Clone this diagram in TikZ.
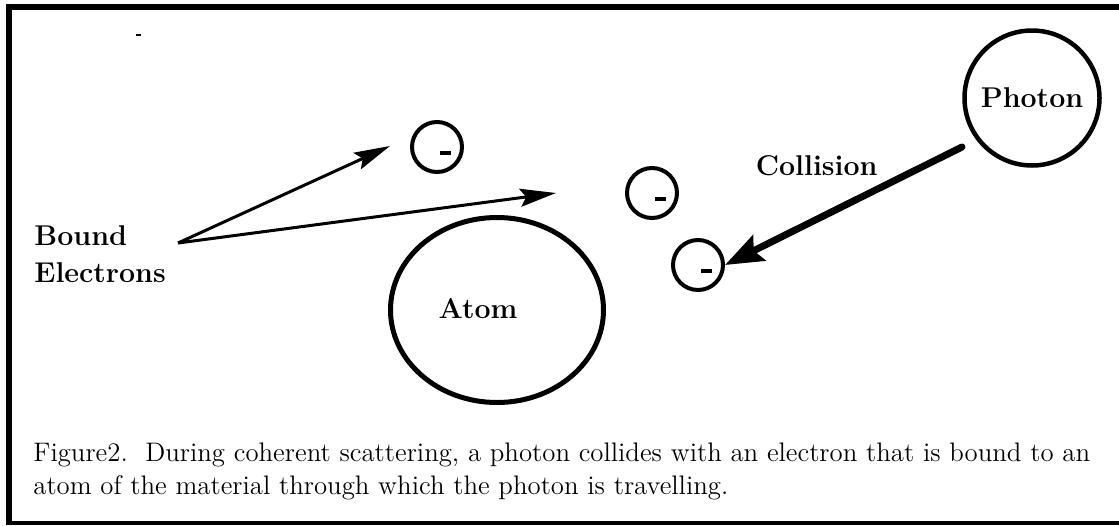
\documentclass[tikz,border=0pt]{standalone}
\usetikzlibrary{arrows.meta,shapes.geometric}
\begin{document}
\begin{tikzpicture}[x=0.5pt,y=-0.5pt,
  lbl/.style={font=\fontsize{14.3}{18.5}\selectfont\bfseries, inner sep=0pt},
  captxt/.style={font=\fontsize{13.4}{16}\selectfont, inner sep=0pt, anchor=base west},
  electron/.style={circle, draw, line width=2pt, minimum size=25pt, inner sep=0pt},
  minus/.style={line width=2pt},
  thinarrow/.style={line width=1.5pt, -{Stealth[length=18pt,width=9pt,inset=3pt]}},
  thickarrow/.style={line width=3.5pt, line cap=round, -{Stealth[length=19pt,width=14pt,inset=3pt]}}]
\useasboundingbox (0,0) rectangle (1119,525);
% frame
\draw[line width=3pt] (9,525) -- (9,6.5) -- (1119,6.5);
\draw[line width=2pt] (9,523) -- (1119,523);
\draw[line width=1pt] (136,35) -- (141,35);
% electrons
\node[electron] (e1) at (437,147) {};
\node[electron] (e2) at (652,193) {};
\node[electron] (e3) at (698,265) {};
\draw[minus] ([shift={(3,6)}]e1.center) -- ++(11,0);
\draw[minus] ([shift={(3,6)}]e2.center) -- ++(11,0);
\draw[minus] ([shift={(3,6)}]e3.center) -- ++(11,0);
% atom
\node[ellipse, draw, line width=2.5pt, minimum width=106.5pt, minimum height=92.5pt, inner sep=0pt] (atom) at (497,310) {};
\node[lbl, anchor=base] (atomlbl) at (478,318) {Atom};
% photon
\node[circle, draw, line width=2.25pt, minimum size=67.5pt, inner sep=0pt, font=\fontsize{14.3}{16}\selectfont\bfseries] (photon) at (1032,98) {Photon};
\node[lbl, anchor=base east] (coll) at (878,175) {Collision};
% bound electrons label
\node[lbl, anchor=north west, align=left] (bound) at (34,225) {Bound\\Electrons};
\coordinate (bstart) at (178,243);
\coordinate (tip1) at (390,146);
\coordinate (tip2) at (556,193);
\coordinate (ptail) at (962,147);
\draw[thinarrow] (bstart) -- (tip1);
\draw[thinarrow] (bstart) -- (tip2);
\draw[thickarrow] (ptail) -- (e3.east);
% caption
\node[captxt] (cap1) at (33,461) {Figure2.\ \ During coherent scattering, a photon collides with an electron that is bound to an};
\node[captxt] (cap2) at (33,494) {atom of the material through which the photon is travelling.};
\end{tikzpicture}
\end{document}
